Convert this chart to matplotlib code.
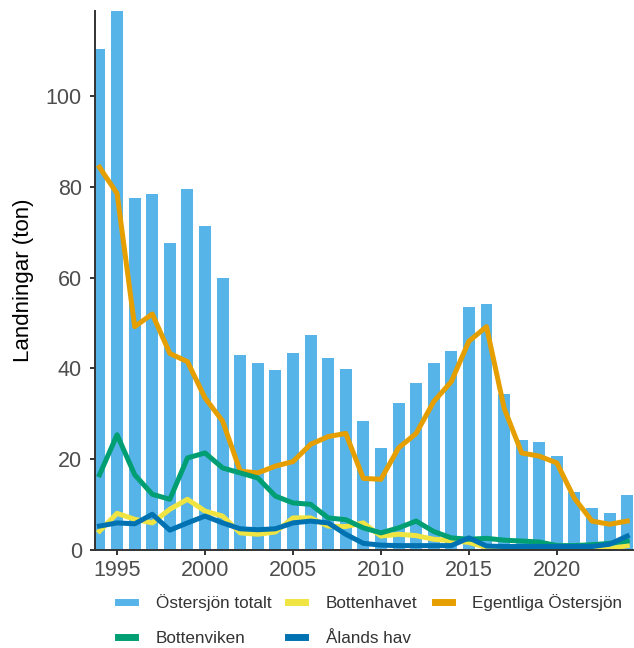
import numpy as np
import matplotlib
matplotlib.use("Agg")
import matplotlib.pyplot as plt
from matplotlib.lines import Line2D

years = list(range(1994, 2025))

# Östersjön totalt (bars)
totalt = [110.3, 120.0, 77.6, 78.5, 67.7, 79.6, 71.4, 60.0, 43.0, 41.1,
          39.6, 43.3, 47.3, 42.2, 39.9, 28.4, 22.5, 32.5, 36.9, 41.2,
          43.9, 53.6, 54.1, 34.3, 24.2, 23.8, 20.7, 12.7, 9.3, 8.1, 12.1]

bottenhavet = [4.2, 8.1, 6.8, 6.0, 9.0, 11.2, 8.6, 7.5, 3.8, 3.5,
               4.0, 7.1, 7.1, 5.3, 5.2, 6.0, 3.1, 3.5, 3.2, 2.4,
               2.1, 1.7, 0.6, 0.3, 0.3, 0.3, 0.3, 0.3, 0.3, 0.3, 1.0]

egentliga = [84.3, 78.5, 49.2, 52.0, 43.3, 41.5, 33.5, 28.4, 17.4, 17.0,
             18.5, 19.5, 23.3, 25.0, 25.7, 15.8, 15.6, 22.5, 25.7, 32.7,
             37.1, 46.0, 49.2, 31.3, 21.4, 20.7, 19.2, 11.4, 6.4, 5.7, 6.4]

bottenviken = [16.6, 25.4, 16.6, 12.3, 11.2, 20.3, 21.4, 18.1, 17.0, 15.9,
               11.9, 10.4, 10.1, 7.1, 6.7, 4.9, 3.8, 4.9, 6.4, 4.1,
               2.7, 2.4, 2.6, 2.2, 2.0, 1.8, 1.0, 1.0, 1.2, 1.5, 2.0]

alands_hav = [5.3, 6.0, 5.8, 7.9, 4.4, 6.0, 7.5, 6.0, 4.7, 4.5,
              4.7, 6.0, 6.4, 6.0, 3.5, 1.5, 1.1, 1.0, 1.0, 1.0,
              1.0, 2.7, 0.9, 0.8, 0.8, 0.8, 0.8, 0.8, 0.8, 1.3, 3.1]

labels = ["Östersjön totalt", "Bottenhavet", "Egentliga Östersjön",
          "Bottenviken", "Ålands hav"]
colors = ["#56B4E9", "#F0E442", "#E69F00", "#009E73", "#0072B2"]

plt.rcParams['font.family'] = ['Liberation Sans', 'DejaVu Sans']

fig = plt.figure(figsize=(6.34, 6.48), dpi=100)
ax = fig.add_axes([0.150, 0.151, 0.849, 0.832])

ax.bar(years, totalt, width=0.68, color=colors[0], zorder=1)
lw = 3.6
ax.plot(years, bottenhavet, color=colors[1], lw=lw, zorder=2, solid_joinstyle='round')
ax.plot(years, egentliga, color=colors[2], lw=lw, zorder=3, solid_joinstyle='round')
ax.plot(years, bottenviken, color=colors[3], lw=lw, zorder=4, solid_joinstyle='round')
ax.plot(years, alands_hav, color=colors[4], lw=lw, zorder=5, solid_joinstyle='round')

ax.set_xlim(1993.75, 2024.35)
ax.set_ylim(0, 118.7)
ax.set_xticks([1995, 2000, 2005, 2010, 2015, 2020])
ax.set_yticks([0, 20, 40, 60, 80, 100])

for s in ['top', 'right']:
    ax.spines[s].set_visible(False)
for s in ['left', 'bottom']:
    ax.spines[s].set_linewidth(1.4)
    ax.spines[s].set_color('#333333')
    ax.spines[s].set_zorder(6)

ax.tick_params(axis='both', length=3.5, width=1.4, color='#333333',
               labelsize=15.5, labelcolor='#4D4D4D')
ax.tick_params(axis='x', pad=3.5)
ax.tick_params(axis='y', pad=6)

ax.set_ylabel("Landningar (ton)", fontsize=16, color='black')
ax.yaxis.set_label_coords(-0.113, 0.5)

# row-wise legend order for 3 columns
order = [0, 3, 1, 4, 2]
handles = [Line2D([0], [0], color=colors[i], lw=5) for i in order]
fig.legend(handles, [labels[i] for i in order], loc='upper left',
           bbox_to_anchor=(118 / 634, 1 - 594 / 648),
           ncol=3, frameon=False, fontsize=12.3, handlelength=1.0,
           handletextpad=1.2, columnspacing=1.0, labelspacing=1.2,
           labelcolor='#333333', borderpad=0, borderaxespad=0)

fig.savefig("out.png", dpi=100)
